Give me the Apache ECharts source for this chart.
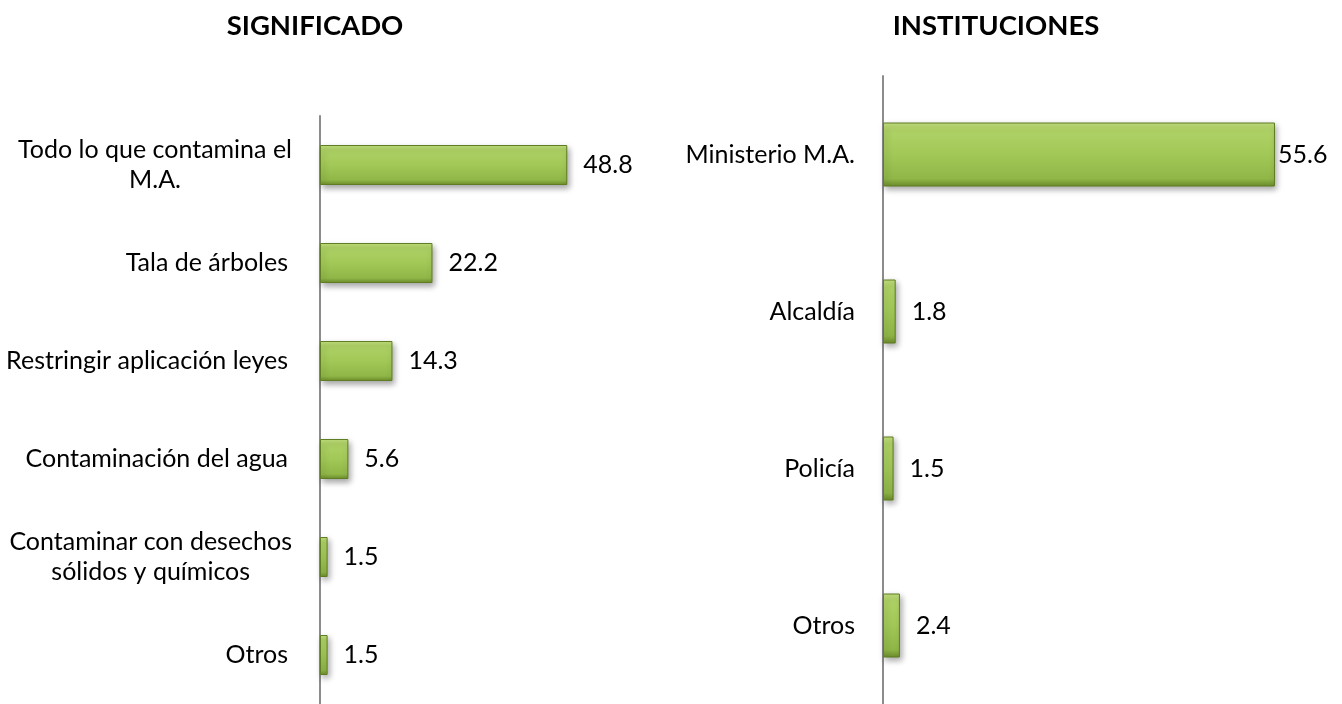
<!DOCTYPE html>
<html>
<head>
<meta charset="utf-8">
<script src="https://cdn.jsdelivr.net/npm/echarts@6/dist/echarts.min.js"></script>
<style>
  html, body { margin: 0; padding: 0; background: #fff; }
  #chart { width: 1342px; height: 704px; }
</style>
</head>
<body>
<div id="chart"></div>
<script>
// -------- datos --------
const significadoCats = ['Todo lo que contamina el\nM.A.', 'Tala de árboles', 'Restringir aplicación leyes',
  'Contaminación del agua', 'Contaminar con desechos\nsólidos y químicos', 'Otros']
const significadoVals = [48.8, 22.2, 14.3, 5.6, 1.5, 1.5]

const institucionesCats = ['Ministerio M.A.', 'Alcaldía', 'Policía', 'Otros']
const institucionesVals = [55.6, 1.8, 1.5, 2.4]

const FONT = 'Lato'
const LABEL_SIZE = 25

// etiquetas de dos lineas: centradas con espaciadores a cada lado
const ctx = document.createElement('canvas').getContext('2d')
ctx.font = LABEL_SIZE + 'px ' + FONT
const leftRich = {
  t: { fontSize: LABEL_SIZE, fontFamily: FONT, color: '#000', lineHeight: 30 },
  r: { fontSize: LABEL_SIZE, fontFamily: FONT, color: '#000', padding: [0, 4, 0, 0] }
}
const leftLabels = {}
significadoCats.forEach((cat, ci) => {
  const lines = cat.split('\n')
  if (lines.length === 1) {
    leftLabels[cat] = '{r|' + cat + '}'
    return
  }
  const widths = lines.map(l => ctx.measureText(l).width)
  const w = Math.max(...widths)
  leftLabels[cat] = lines.map((l, li) => {
    const pad = (w - widths[li]) / 2
    if (pad < 1) return '{t|' + l + '}'
    const key = 's' + ci + '_' + li
    leftRich[key] = { width: pad, height: 1, lineHeight: 30 }
    return '{' + key + '|}{t|' + l + '}{' + key + '|}'
  }).join('\n')
})

const barStyle = {
  color: new echarts.graphic.LinearGradient(0, 0, 0, 1, [
    { offset: 0, color: '#c4e07f' },
    { offset: 0.12, color: '#afd266' },
    { offset: 0.5, color: '#a2c857' },
    { offset: 0.88, color: '#8fb647' },
    { offset: 1, color: '#6d8c2b' }
  ]),
  borderColor: '#5f7d22',
  borderWidth: 1,
  shadowColor: 'rgba(0,0,0,0.35)',
  shadowBlur: 6,
  shadowOffsetX: 2,
  shadowOffsetY: 3
}

const valueLabel = {
  show: true,
  position: 'right',
  distance: 16,
  color: '#000',
  fontSize: LABEL_SIZE,
  fontFamily: FONT,
  formatter: p => p.value.toFixed(1)
}

const chart = echarts.init(document.getElementById('chart'))

chart.setOption({
  animation: false,
  textStyle: { fontFamily: FONT },
  title: [
    {
      text: 'SIGNIFICADO', left: 310, top: 7, textAlign: 'center',
      textStyle: { fontFamily: FONT, fontWeight: 'bold', fontSize: 27.5, color: '#000' }
    },
    {
      text: 'INSTITUCIONES', left: 991, top: 7, textAlign: 'center',
      textStyle: { fontFamily: FONT, fontWeight: 'bold', fontSize: 27.5, color: '#000' }
    }
  ],
  grid: [
    { left: 320, top: 116, width: 304, height: 593 },
    { left: 883, top: 76, width: 423, height: 632 }
  ],
  xAxis: [
    { type: 'value', gridIndex: 0, min: 0, max: 60, show: false },
    { type: 'value', gridIndex: 1, min: 0, max: 60, show: false }
  ],
  yAxis: [
    {
      type: 'category', gridIndex: 0, data: significadoCats, inverse: true,
      axisLine: { show: true, lineStyle: { color: '#8c8c8c', width: 2 } },
      axisTick: { show: false },
      axisLabel: {
        margin: 28, color: '#000', fontSize: LABEL_SIZE, fontFamily: FONT,
        formatter: v => leftLabels[v], rich: leftRich
      }
    },
    {
      type: 'category', gridIndex: 1, data: institucionesCats, inverse: true,
      axisLine: { show: true, lineStyle: { color: '#8c8c8c', width: 2 } },
      axisTick: { show: false },
      axisLabel: { margin: 28, color: '#000', fontSize: LABEL_SIZE, fontFamily: FONT }
    }
  ],
  series: [
    {
      type: 'bar', xAxisIndex: 0, yAxisIndex: 0, barWidth: 40,
      data: significadoVals, itemStyle: barStyle, label: valueLabel
    },
    {
      type: 'bar', xAxisIndex: 1, yAxisIndex: 1, barWidth: 64,
      data: institucionesVals.map((v, i) => i === 0 ? { value: v, label: { distance: 3 } } : v),
      itemStyle: barStyle, label: valueLabel
    }
  ]
})
</script>
</body>
</html>
